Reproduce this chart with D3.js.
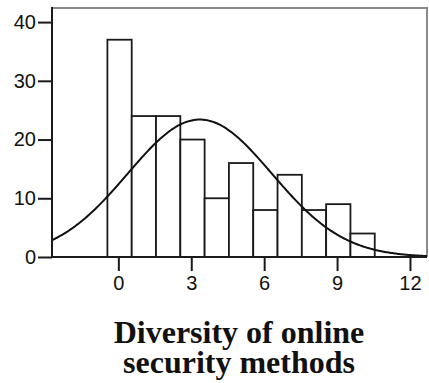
<!DOCTYPE html>
<html>
<head>
<meta charset="utf-8">
<script src="https://cdn.jsdelivr.net/npm/d3@7"></script>
<style>
  html, body { margin: 0; padding: 0; background: #fff; }
  svg { display: block; }
</style>
</head>
<body>
<div id="chart"></div>
<script>
// histogram bins (bin centre = diversity score) and frequencies
const binCenters = [0, 1, 2, 3, 4, 5, 6, 7, 8, 9, 10];
const counts = [37, 24, 24, 20, 10, 16, 8, 14, 8, 9, 4];
const xTicks = [0, 3, 6, 9, 12];
const yTicks = [0, 10, 20, 30, 40];
const titleLines = ["Diversity of online", "security methods"];

const binWidth = 1;
const binOffset = -0.45; // left edge of bin relative to its centre

// Normal curve fitted from the histogram (SPSS style)
const n = d3.sum(counts);
const mean = d3.sum(binCenters, (c, i) => c * counts[i]) / n;
const sd = Math.sqrt(d3.sum(binCenters, (c, i) => counts[i] * (c - mean) ** 2) / (n - 1));

const width = 429, height = 383;
const plot = { left: 52, right: 427, top: 8, bottom: 257 };

const svg = d3.select("#chart").append("svg")
  .attr("width", width)
  .attr("height", height);

const x = d3.scaleLinear().domain([-2.73, 12.7]).range([plot.left, plot.right]);
const y = d3.scaleLinear().domain([0, 42.4]).range([plot.bottom, plot.top]);

svg.append("clipPath").attr("id", "clip")
  .append("rect")
  .attr("x", plot.left).attr("y", plot.top)
  .attr("width", plot.right - plot.left).attr("height", plot.bottom - plot.top);

// frame (top/right lighter)
svg.append("path")
  .attr("d", `M${plot.left},${plot.top}H${plot.right}V${plot.bottom}`)
  .attr("fill", "none")
  .attr("stroke", "#8a8a8a")
  .attr("stroke-width", 2);

// bars
svg.append("g").selectAll("rect")
  .data(counts)
  .join("rect")
  .attr("x", (d, i) => x(binCenters[i] + binOffset))
  .attr("y", d => y(d))
  .attr("width", (d, i) => x(binCenters[i] + binOffset + binWidth) - x(binCenters[i] + binOffset))
  .attr("height", d => y(0) - y(d))
  .attr("fill", "#fff")
  .attr("stroke", "#1a1a1a")
  .attr("stroke-width", 1.8);

// normal curve
const curveX = d3.range(x.domain()[0], x.domain()[1] + 0.05, 0.05);
const density = v => n * binWidth / (sd * Math.sqrt(2 * Math.PI)) * Math.exp(-0.5 * ((v - mean) / sd) ** 2);
svg.append("path")
  .datum(curveX)
  .attr("clip-path", "url(#clip)")
  .attr("fill", "none")
  .attr("stroke", "#111")
  .attr("stroke-width", 2)
  .attr("d", d3.line().x(v => x(v)).y(v => y(density(v))).curve(d3.curveBasis));

// axes
const xAxis = svg.append("g")
  .attr("transform", `translate(0,${plot.bottom})`)
  .call(d3.axisBottom(x).tickValues(xTicks).tickSize(14).tickPadding(5).tickSizeOuter(0));

const yAxis = svg.append("g")
  .attr("transform", `translate(${plot.left},0)`)
  .call(d3.axisLeft(y).tickValues(yTicks).tickSize(14).tickPadding(2).tickSizeOuter(0));

[xAxis, yAxis].forEach(g => {
  g.select(".domain").attr("stroke", "#1a1a1a").attr("stroke-width", 2);
  g.selectAll(".tick line").attr("stroke", "#1a1a1a").attr("stroke-width", 2);
  g.selectAll(".tick text")
    .attr("fill", "#111")
    .style("font-family", "'Liberation Sans', Arial, sans-serif")
    .style("font-size", "20px");
});
// extend domain lines to the corner
xAxis.select(".domain").attr("d", `M${plot.left - 1},0H${plot.right}`);
yAxis.select(".domain").attr("d", `M0,${plot.top - 1}V${plot.bottom + 1}`);

// title
svg.append("text")
  .attr("x", 239)
  .attr("y", 343)
  .attr("text-anchor", "middle")
  .style("font-family", "'Liberation Serif', 'Times New Roman', serif")
  .style("font-weight", "bold")
  .style("font-size", "32px")
  .attr("fill", "#111")
  .selectAll("tspan")
  .data(titleLines)
  .join("tspan")
  .attr("x", 239)
  .attr("dy", (d, i) => i === 0 ? 0 : 30)
  .text(d => d);
</script>
</body>
</html>
